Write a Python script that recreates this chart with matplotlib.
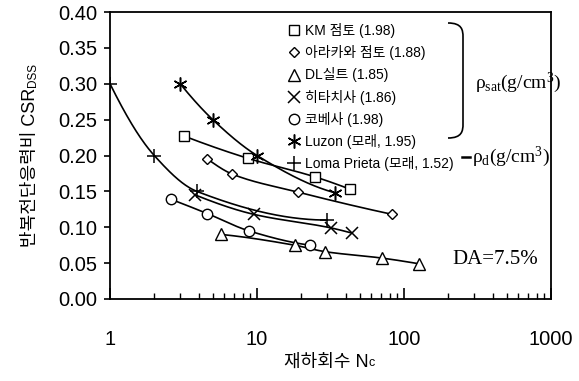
import numpy as np
import matplotlib
matplotlib.use('Agg')
import matplotlib.pyplot as plt
from matplotlib.path import Path
from matplotlib.patches import PathPatch
from matplotlib.lines import Line2D
from matplotlib.ticker import FixedLocator, LogLocator, NullFormatter, FuncFormatter

plt.rcParams['font.family'] = ['Liberation Sans', 'Noto Sans CJK KR']
plt.rcParams['mathtext.fontset'] = 'custom'
plt.rcParams['mathtext.rm'] = 'Liberation Serif'
plt.rcParams['mathtext.it'] = 'Liberation Serif:italic'
plt.rcParams['mathtext.bf'] = 'Liberation Serif:bold'

# ---- data ----
labels = ['KM 점토 (1.98)', '아라카와 점토 (1.88)', 'DL실트 (1.85)', '히타치사 (1.86)',
          '코베사 (1.98)', 'Luzon (모래, 1.95)', 'Loma Prieta (모래, 1.52)']

km_n = [3.2, 8.7, 25, 43]
km_csr = [0.227, 0.196, 0.170, 0.153]
arakawa_n = [4.6, 6.8, 19, 83]
arakawa_csr = [0.195, 0.174, 0.149, 0.118]
dl_n = [5.7, 18, 29, 71, 127]
dl_csr = [0.090, 0.075, 0.066, 0.057, 0.049]
hitachi_n = [3.8, 9.5, 32, 44]
hitachi_csr = [0.145, 0.118, 0.099, 0.092]
kobe_n = [2.6, 4.6, 8.8, 23]
kobe_csr = [0.139, 0.119, 0.095, 0.075]
luzon_n = [3.0, 5.0, 10, 34]
luzon_csr = [0.300, 0.250, 0.200, 0.148]
loma_n = [1.0, 2.0, 3.9, 30]
loma_csr = [0.300, 0.200, 0.150, 0.110]

yticks = [0.00, 0.05, 0.10, 0.15, 0.20, 0.25, 0.30, 0.35, 0.40]
xticks = [1, 10, 100, 1000]

series = [
    (km_n, km_csr, dict(marker='s', ms=7.5)),
    (arakawa_n, arakawa_csr, dict(marker='D', ms=5.5)),
    (dl_n, dl_csr, dict(marker='^', ms=8)),
    (hitachi_n, hitachi_csr, dict(marker='x', ms=8, mew=1.1)),
    (kobe_n, kobe_csr, dict(marker='o', ms=7.5)),
    (luzon_n, luzon_csr, dict(marker=(6, 2, 0), ms=10, mew=1.1)),
    (loma_n, loma_csr, dict(marker='+', ms=10, mew=1.1)),
]

W, H = 579, 381
fig = plt.figure(figsize=(W / 100, H / 100), dpi=100)
ax = fig.add_axes([110 / W, 1 - 299 / H, 441 / W, 287 / H])


def pchip(xk, yk, xs):
    """Monotone cubic (Fritsch-Carlson) interpolation."""
    xk = np.asarray(xk, float)
    yk = np.asarray(yk, float)
    h = np.diff(xk)
    d = np.diff(yk) / h
    n = len(xk)
    m = np.zeros(n)
    for i in range(1, n - 1):
        if d[i - 1] * d[i] > 0:
            w1 = 2 * h[i] + h[i - 1]
            w2 = h[i] + 2 * h[i - 1]
            m[i] = (w1 + w2) / (w1 / d[i - 1] + w2 / d[i])
    m[0] = d[0] if n == 2 else ((2 * h[0] + h[1]) * d[0] - h[0] * d[1]) / (h[0] + h[1])
    if np.sign(m[0]) != np.sign(d[0]):
        m[0] = 0
    m[-1] = d[-1] if n == 2 else ((2 * h[-1] + h[-2]) * d[-1] - h[-1] * d[-2]) / (h[-1] + h[-2])
    if np.sign(m[-1]) != np.sign(d[-1]):
        m[-1] = 0
    out = np.empty_like(xs)
    idx = np.clip(np.searchsorted(xk, xs) - 1, 0, n - 2)
    for j, (x, i) in enumerate(zip(xs, idx)):
        t = (x - xk[i]) / h[i]
        h00 = 2 * t ** 3 - 3 * t ** 2 + 1
        h10 = t ** 3 - 2 * t ** 2 + t
        h01 = -2 * t ** 3 + 3 * t ** 2
        h11 = t ** 3 - t ** 2
        out[j] = h00 * yk[i] + h10 * h[i] * m[i] + h01 * yk[i + 1] + h11 * h[i] * m[i + 1]
    return out


def smooth_curve(n, c):
    lx = np.log10(n)
    xs = np.linspace(lx.min(), lx.max(), 300)
    return 10 ** xs, pchip(lx, c, xs)


handles = []
for (n, c, st), lab in zip(series, labels):
    fx, fy = smooth_curve(n, c)
    ax.plot(fx, fy, color='black', lw=1.2, zorder=2)
    ax.plot(n, c, linestyle='none', color='black', mfc='white', mec='black',
            zorder=3, **st)
    handles.append(Line2D([], [], linestyle='none', color='black', mfc='white',
                          mec='black', **st))

ax.set_xscale('log')
ax.set_xlim(1, 1000)
ax.set_ylim(0, 0.4)
ax.yaxis.set_major_locator(FixedLocator(yticks))
ax.yaxis.set_major_formatter(FuncFormatter(lambda v, p: f'{v:.2f}'))
ax.xaxis.set_major_locator(FixedLocator(xticks))
ax.xaxis.set_major_formatter(FuncFormatter(lambda v, p: f'{v:g}'))
ax.xaxis.set_minor_locator(LogLocator(base=10, subs=np.arange(2, 10)))
ax.xaxis.set_minor_formatter(NullFormatter())

ax.tick_params(axis='y', direction='out', length=4, width=1.2, pad=5, labelsize=14.5)
ax.tick_params(axis='x', which='major', direction='in', length=8, width=1.2, pad=22, labelsize=14.5)
ax.tick_params(axis='x', which='minor', direction='in', length=4, width=1.0)
for sp in ax.spines.values():
    sp.set_linewidth(1.3)

leg = ax.legend(handles, labels, loc='upper left', bbox_to_anchor=((288 - 110) / 441, (299 - 23) / 287),
                frameon=False, fontsize=10, handlelength=0.9, handletextpad=0.35,
                labelspacing=0.52, borderpad=0, borderaxespad=0)

# brace
def px(x, y):
    return (x / W, 1 - y / H)

verts = [px(448, 23), px(462, 23), px(463, 30), px(463, 37),
         px(463, 124),
         px(463, 131), px(462, 138), px(448, 138)]
codes = [Path.MOVETO, Path.CURVE4, Path.CURVE4, Path.CURVE4,
         Path.LINETO,
         Path.CURVE4, Path.CURVE4, Path.CURVE4]
fig.patches.append(PathPatch(Path(verts, codes), transform=fig.transFigure,
                             fill=False, lw=1.2, edgecolor='black'))

fig.text(475 / W, 1 - 83 / H, r'$\mathrm{ρ}_{\mathrm{sat}}(\mathrm{g/cm}^{\mathrm{3}})$', fontsize=14,
         ha='left', va='center')
fig.lines.append(Line2D([462 / W, 470 / W], [1 - 157 / H, 1 - 157 / H],
                        transform=fig.transFigure, color='black', lw=1.8))
fig.text(472 / W, 1 - 157 / H, r'$\mathrm{ρ}_{\mathrm{d}}(\mathrm{g/cm}^{\mathrm{3}})$', fontsize=14,
         ha='left', va='center')

ax.text((452 - 110) / 441, (299 - 260) / 287, 'DA=7.5%', transform=ax.transAxes,
        fontsize=15, family='Liberation Serif', ha='left', va='center')

# axis labels with subscripts
fig.canvas.draw()
r = fig.canvas.get_renderer()
xl = fig.text(326 / W, 1 - 362 / H, '재하회수 N', fontsize=13, ha='center', va='center')
bb = xl.get_window_extent(r)
fig.text((bb.x1 + 0.5) / W, (bb.y0 + 1) / H, 'c', fontsize=9, ha='left', va='bottom')

yl = fig.text(31 / W, 1 - 247 / H, '반복전단응력비 CSR', fontsize=13, rotation=90,
              ha='center', va='bottom')
bb = yl.get_window_extent(r)
fig.text((bb.x1 - 1) / W, (bb.y1 + 0.5) / H, 'DSS', fontsize=8.5, rotation=90,
         ha='right', va='bottom')

fig.savefig('out.png', dpi=100)
